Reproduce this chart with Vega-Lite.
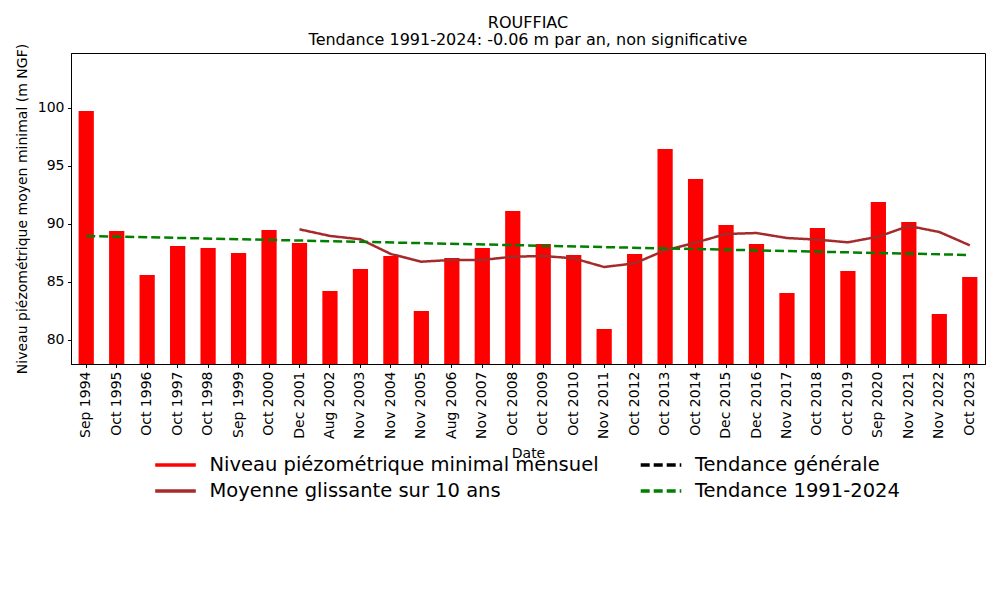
{
  "$schema": "https://vega.github.io/schema/vega-lite/v6.json",
  "width": 914,
  "height": 311,
  "autosize": {"type": "none"},
  "padding": {"left": 71, "top": 53, "right": 15, "bottom": 236},
  "background": "white",
  "title": {
    "text": ["ROUFFIAC", "Tendance 1991-2024: -0.06 m par an, non significative"],
    "fontSize": 16,
    "fontWeight": "normal",
    "font": "DejaVu Sans",
    "color": "black",
    "anchor": "middle",
    "offset": -5,
    "lineHeight": 17
  },
  "config": {
    "font": "DejaVu Sans",
    "view": {"stroke": "black", "strokeWidth": 1},
    "axis": {
      "labelFont": "DejaVu Sans",
      "labelFontSize": 14,
      "labelColor": "black",
      "tickColor": "black",
      "domainColor": "black",
      "tickSize": 3.5,
      "labelPadding": 3.5,
      "titleFont": "DejaVu Sans",
      "titleFontSize": 14,
      "titleFontWeight": "normal",
      "titleColor": "black",
      "grid": false
    }
  },
  "datasets": {
    "niveaux": [
      {"date": "Sep 1994", "niveau": 99.74, "moyenne": null},
      {"date": "Oct 1995", "niveau": 89.40, "moyenne": null},
      {"date": "Oct 1996", "niveau": 85.60, "moyenne": null},
      {"date": "Oct 1997", "niveau": 88.10, "moyenne": null},
      {"date": "Oct 1998", "niveau": 87.93, "moyenne": null},
      {"date": "Sep 1999", "niveau": 87.50, "moyenne": null},
      {"date": "Oct 2000", "niveau": 89.48, "moyenne": null},
      {"date": "Dec 2001", "niveau": 88.36, "moyenne": 89.54},
      {"date": "Aug 2002", "niveau": 84.22, "moyenne": 88.97},
      {"date": "Nov 2003", "niveau": 86.12, "moyenne": 88.68},
      {"date": "Nov 2004", "niveau": 87.24, "moyenne": 87.41},
      {"date": "Nov 2005", "niveau": 82.50, "moyenne": 86.75},
      {"date": "Aug 2006", "niveau": 87.07, "moyenne": 86.90},
      {"date": "Nov 2007", "niveau": 87.93, "moyenne": 86.90},
      {"date": "Oct 2008", "niveau": 91.12, "moyenne": 87.18},
      {"date": "Oct 2009", "niveau": 88.28, "moyenne": 87.24},
      {"date": "Oct 2010", "niveau": 87.33, "moyenne": 87.04},
      {"date": "Nov 2011", "niveau": 80.95, "moyenne": 86.29},
      {"date": "Oct 2012", "niveau": 87.41, "moyenne": 86.61},
      {"date": "Oct 2013", "niveau": 96.47, "moyenne": 87.73},
      {"date": "Oct 2014", "niveau": 93.88, "moyenne": 88.39},
      {"date": "Dec 2015", "niveau": 89.91, "moyenne": 89.14},
      {"date": "Dec 2016", "niveau": 88.28, "moyenne": 89.22},
      {"date": "Nov 2017", "niveau": 84.05, "moyenne": 88.79},
      {"date": "Oct 2018", "niveau": 89.66, "moyenne": 88.65},
      {"date": "Oct 2019", "niveau": 85.95, "moyenne": 88.42},
      {"date": "Sep 2020", "niveau": 91.90, "moyenne": 88.91},
      {"date": "Nov 2021", "niveau": 90.17, "moyenne": 89.83},
      {"date": "Nov 2022", "niveau": 82.24, "moyenne": 89.31},
      {"date": "Oct 2023", "niveau": 85.43, "moyenne": 88.16}
    ],
    "tendance": [
      {"date": "Sep 1994", "valeur": 88.97},
      {"date": "Oct 2023", "valeur": 87.33}
    ]
  },
  "encoding": {
    "x": {
      "field": "date",
      "type": "nominal",
      "sort": null,
      "scale": {
        "domain": ["Sep 1994", "Oct 1995", "Oct 1996", "Oct 1997", "Oct 1998", "Sep 1999", "Oct 2000", "Dec 2001", "Aug 2002", "Nov 2003", "Nov 2004", "Nov 2005", "Aug 2006", "Nov 2007", "Oct 2008", "Oct 2009", "Oct 2010", "Nov 2011", "Oct 2012", "Oct 2013", "Oct 2014", "Dec 2015", "Dec 2016", "Nov 2017", "Oct 2018", "Oct 2019", "Sep 2020", "Nov 2021", "Nov 2022", "Oct 2023"],
        "paddingInner": 0.5,
        "paddingOuter": 0.25
      },
      "axis": {"title": "Date", "labelAngle": -90, "titlePadding": 8}
    }
  },
  "layer": [
    {
      "data": {"name": "niveaux"},
      "mark": {"type": "bar", "clip": true},
      "encoding": {
        "y": {
          "field": "niveau",
          "type": "quantitative",
          "scale": {"domain": [77.93, 104.74], "nice": false, "zero": false},
          "axis": {"title": "Niveau piézométrique moyen minimal (m NGF)", "values": [80, 85, 90, 95, 100], "titlePadding": 8}
        },
        "color": {
          "datum": "Niveau piézométrique minimal mensuel",
          "type": "nominal",
          "scale": {
            "domain": ["Niveau piézométrique minimal mensuel", "Moyenne glissante sur 10 ans", "Tendance générale", "Tendance 1991-2024"],
            "range": ["#ff0000", "#a52a2a", "#000000", "#008000"]
          },
          "legend": {
            "title": null,
            "orient": "none",
            "legendX": 88,
            "legendY": 395.5,
            "columns": 2,
            "columnPadding": 34.5,
            "rowPadding": 0,
            "padding": 0,
            "labelFont": "DejaVu Sans",
            "labelFontSize": 19.5,
            "labelColor": "black",
            "labelLimit": 600,
            "labelOffset": 17.5,
            "symbolType": "M-1.4,0H1.4",
            "symbolSize": 841,
            "symbolStrokeWidth": 3.5
          }
        }
      }
    },
    {
      "data": {"name": "niveaux"},
      "mark": {"type": "line", "strokeWidth": 2.5},
      "encoding": {
        "y": {"field": "moyenne", "type": "quantitative"},
        "color": {"datum": "Moyenne glissante sur 10 ans", "type": "nominal"},
        "strokeDash": {
          "datum": "Moyenne glissante sur 10 ans",
          "type": "nominal",
          "scale": {
            "domain": ["Niveau piézométrique minimal mensuel", "Moyenne glissante sur 10 ans", "Tendance générale", "Tendance 1991-2024"],
            "range": [[1, 0], [1, 0], [9, 4], [9, 4]]
          }
        }
      }
    },
    {
      "data": {"name": "tendance"},
      "mark": {"type": "line", "strokeWidth": 2.5},
      "encoding": {
        "y": {"field": "valeur", "type": "quantitative"},
        "color": {"datum": "Tendance 1991-2024", "type": "nominal"},
        "strokeDash": {"datum": "Tendance 1991-2024", "type": "nominal"}
      }
    }
  ]
}
